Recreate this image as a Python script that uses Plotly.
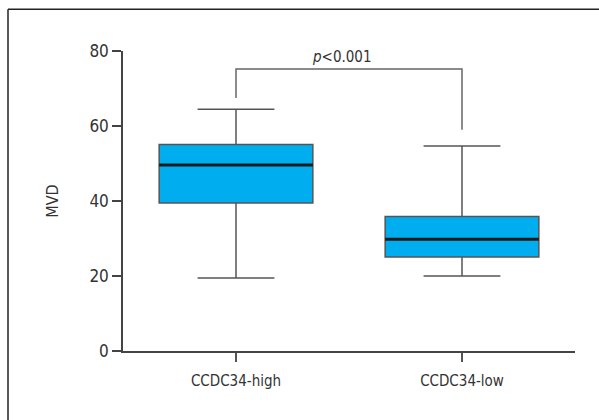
import plotly.graph_objects as go

categories = ["CCDC34-high", "CCDC34-low"]
q1 = [39.5, 25.1]
median = [49.6, 29.8]
q3 = [55.1, 35.9]
lower = [19.5, 20.0]
upper = [64.5, 54.7]
bracket_left_bottom = 67.5
bracket_right_bottom = 59.0
bracket_top = 75.2
p_label = "<i>p</i>&lt;0.001"
y_ticks = [0, 20, 40, 60, 80]

FONT = "DejaVu Sans Condensed, Liberation Sans Narrow, sans-serif"
BOX_W = 0.68
fig = go.Figure()
fig.add_trace(go.Box(
    x=categories, q1=q1, median=median, q3=q3,
    lowerfence=lower, upperfence=upper,
    fillcolor="#00AEEF", line=dict(color="#555555", width=1.5),
    width=BOX_W, whiskerwidth=0.5, boxpoints=False, showlegend=False,
    hoverinfo="skip",
))

shapes = []
for i, m in enumerate(median):
    shapes.append(dict(type="line", xref="x", yref="y",
                       x0=i - BOX_W / 2, x1=i + BOX_W / 2, y0=m, y1=m,
                       line=dict(color="#1a1a1a", width=3)))
# significance bracket
shapes.append(dict(type="path", xref="x", yref="y",
                   path=f"M 0,{bracket_left_bottom} L 0,{bracket_top} L 1,{bracket_top} L 1,{bracket_right_bottom}",
                   line=dict(color="#666666", width=1.5)))
# outer frame (top and left)
fy = 1 + 41.7 / 300
fx = -115 / 452
shapes.append(dict(type="line", xref="paper", yref="paper", x0=fx, x1=1.2, y0=fy, y1=fy,
                   line=dict(color="#222222", width=1.5)))
shapes.append(dict(type="line", xref="paper", yref="paper", x0=fx, x1=fx, y0=-0.3, y1=fy,
                   line=dict(color="#222222", width=1.5)))

fig.update_layout(
    width=599, height=420,
    margin=dict(l=123, r=24, t=50.7, b=69.3),
    paper_bgcolor="white", plot_bgcolor="white",
    font=dict(family=FONT, size=15, color="#333333"),
    shapes=shapes,
    annotations=[dict(x=0.47, y=bracket_top, xref="x", yref="y", text=p_label,
                      showarrow=False, yanchor="bottom", yshift=1,
                      font=dict(family=FONT, size=15, color="#333333"))],
    xaxis=dict(range=[-0.5, 1.5], showline=True, linecolor="#444444", linewidth=1.5,
               ticks="outside", ticklen=9, tickwidth=1.5, tickcolor="#555555",
               showgrid=False, zeroline=False, tickfont=dict(size=15),
               ticklabelstandoff=6),
    yaxis=dict(range=[0, 80], tickvals=y_ticks, showline=True, linecolor="#444444", linewidth=1.5,
               ticks="outside", ticklen=9, tickwidth=1.5, tickcolor="#444444",
               showgrid=False, zeroline=False, tickfont=dict(size=17),
               title=dict(text="MVD", font=dict(size=16), standoff=27)),
)
fig.write_html("out.html", config={"displayModeBar": False},
               post_script="document.body.style.margin='0';")
